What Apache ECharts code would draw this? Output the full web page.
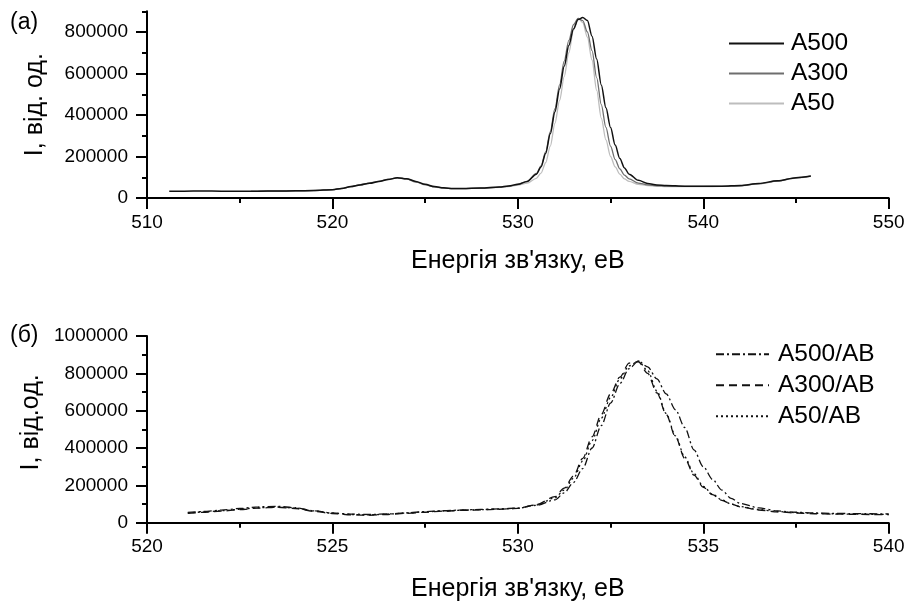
<!DOCTYPE html>
<html>
<head>
<meta charset="utf-8">
<script src="https://cdn.jsdelivr.net/npm/echarts@6/dist/echarts.min.js"></script>
<style>
  html, body { margin: 0; padding: 0; background: #fff; }
  #chart { width: 908px; height: 603px; }
</style>
</head>
<body>
<div id="chart"></div>
<script>
// O 1s spectra: panel (а) – anatase samples, panel (б) – the same samples after AB treatment
const energyTop = [511.2, 512, 513, 514, 515, 515.6, 516, 517, 518, 519,
  520, 520.5, 521, 521.5, 522, 522.5, 523, 523.5, 524, 524.5,
  525, 525.5, 526, 526.5, 527, 528, 529, 529.5, 530, 530.5,
  531, 531.25, 531.5, 531.75, 532, 532.25, 532.5, 532.75, 533, 533.25,
  533.5, 533.75, 534, 534.25, 534.5, 534.75, 535, 535.25, 535.5, 535.75,
  536, 536.5, 537, 537.5, 538, 539, 540, 541, 542, 543,
  544, 545, 545.8];

const a500 = [32000, 33000, 33500, 33000, 32000, 32500, 33000, 33500, 34500, 36500,
  40000, 46000, 55000, 63000, 71000, 79000, 89000, 98000, 93000, 80000,
  66000, 55000, 49000, 46000, 46000, 48000, 53000, 58000, 66000, 80000,
  115000, 150000, 215000, 310000, 415000, 525000, 635000, 735000, 815000, 860000,
  870000, 855000, 780000, 670000, 545000, 435000, 340000, 255000, 190000, 145000,
  115000, 85000, 70000, 63000, 60000, 57000, 57000, 57000, 60000, 70000,
  83000, 98000, 106000];

const a300 = [null, null, null, null, null, 32000, 32500, 33000, 34000, 36000,
  40000, 46000, 55000, 64000, 72000, 80000, 90000, 97000, 92000, 78000,
  64000, 54000, 48000, 45000, 45000, 47000, 52000, 57000, 65000, 80000,
  118000, 155000, 222000, 320000, 430000, 545000, 660000, 760000, 835000, 866000,
  855000, 800000, 710000, 580000, 450000, 340000, 250000, 185000, 140000, 110000,
  92000, 72000, 63000, 59000, 57000, 56000, 56000, 56000, 59000, 69000,
  82000, 97000, 105000];

const a50 = [null, null, null, null, null, 33000, 33000, 33500, 34500, 36500,
  40000, 45000, 54000, 63000, 71000, 80000, 90000, 97000, 91000, 77000,
  63000, 53000, 48000, 45000, 45000, 47000, 51000, 55000, 62000, 72000,
  95000, 120000, 170000, 250000, 360000, 470000, 585000, 700000, 810000, 866000,
  845000, 775000, 665000, 520000, 385000, 280000, 200000, 150000, 115000, 92000,
  80000, 66000, 60000, 57000, 55000, 55000, 55000, 56000, 59000, 68000,
  81000, 96000, 104000];

const energyBottom = [521.1, 521.5, 522, 522.5, 523, 523.5, 524, 524.5, 525, 525.5,
  526, 526.5, 527, 527.5, 528, 528.5, 529, 529.5, 530, 530.5,
  531, 531.25, 531.5, 531.75, 532, 532.25, 532.5, 532.75, 533, 533.25,
  533.5, 533.75, 534, 534.25, 534.5, 534.75, 535, 535.25, 535.5, 535.75,
  536, 536.5, 537, 537.5, 538, 538.5, 539, 539.5, 540];

const a500ab = [55000, 60000, 67000, 76000, 85000, 88000, 80000, 64000, 52000, 46000,
  44000, 47000, 53000, 59000, 64000, 68000, 71000, 74000, 78000, 93000,
  122000, 160000, 215000, 290000, 400000, 520000, 640000, 745000, 825000, 866000,
  835000, 770000, 690000, 605000, 510000, 390000, 300000, 232000, 175000, 130000,
  103000, 79000, 63000, 56000, 52000, 50000, 49000, 48000, 47000];

const a300ab = [50000, 55000, 62000, 70000, 78000, 83000, 76000, 61000, 49000, 42000,
  40000, 44000, 50000, 56000, 62000, 66000, 69000, 72000, 77000, 97000,
  140000, 185000, 250000, 345000, 460000, 580000, 690000, 780000, 855000, 862000,
  800000, 695000, 580000, 460000, 345000, 255000, 190000, 150000, 120000, 100000,
  85000, 68000, 58000, 52000, 48000, 46000, 45000, 44000, 43000];

const a50ab = [52000, 57000, 64000, 72000, 80000, 84000, 78000, 63000, 51000, 44000,
  42000, 46000, 52000, 58000, 63000, 67000, 70000, 73000, 77000, 95000,
  133000, 175000, 238000, 330000, 440000, 560000, 670000, 770000, 840000, 866000,
  815000, 705000, 585000, 465000, 352000, 262000, 195000, 153000, 122000, 100000,
  86000, 70000, 60000, 54000, 50000, 48000, 46000, 45000, 44000];

const ticksTopY = [0, 200000, 400000, 600000, 800000];
const seriesTop = ['A500', 'A300', 'A50'];
const seriesBottom = ['A500/AB', 'A300/AB', 'A50/AB'];
const xTitle = 'Енергія зв\'язку, еВ';

const FONT = "'Liberation Sans', Arial, sans-serif";

function pairs(xs, ys) {
  const out = [];
  for (let i = 0; i < xs.length; i++) {
    if (ys[i] !== null) out.push([xs[i], ys[i]]);
  }
  return out;
}

const plain = function (v) { return String(v); };
const axisLineStyle = { show: true, lineStyle: { color: '#000', width: 2 } };

function mainX(grid, min, max, step, gap) {
  return {
    type: 'value', gridIndex: grid, position: 'bottom', min: min, max: max, interval: step,
    axisLine: axisLineStyle,
    axisTick: { show: true, inside: false, length: 11, lineStyle: { color: '#000', width: 2 } },
    axisLabel: { color: '#000', fontSize: 19, fontFamily: FONT, margin: 15, formatter: plain },
    splitLine: { show: false },
    name: xTitle, nameLocation: 'middle', nameGap: gap, nameMoveOverlap: false,
    nameTextStyle: { color: '#000', fontSize: 25, fontFamily: FONT }
  };
}
function minorX(grid, min, max, step) {
  return {
    type: 'value', gridIndex: grid, position: 'bottom', min: min, max: max, interval: step,
    axisLine: { show: false, onZero: false },
    axisTick: { show: true, inside: false, length: 5, lineStyle: { color: '#000', width: 2 } },
    axisLabel: { show: false }, splitLine: { show: false }
  };
}
function mainY(grid, max, step, name, gap, custom, namePad) {
  const ax = {
    type: 'value', gridIndex: grid, position: 'left', min: 0, max: max, interval: step,
    axisLine: axisLineStyle,
    axisTick: { show: true, inside: false, length: 11, lineStyle: { color: '#000', width: 2 } },
    axisLabel: { color: '#000', fontSize: 19, fontFamily: FONT, margin: 19, formatter: plain },
    splitLine: { show: false },
    name: name, nameLocation: 'middle', nameGap: gap, nameMoveOverlap: false,
    nameTextStyle: { color: '#000', fontSize: 25, fontFamily: FONT, padding: namePad }
  };
  if (custom) {
    ax.axisTick.customValues = custom;
    ax.axisLabel.customValues = custom;
  }
  return ax;
}
function minorY(grid, max, step) {
  return {
    type: 'value', gridIndex: grid, position: 'left', min: 0, max: max, interval: step,
    axisLine: { show: false, onZero: false },
    axisTick: { show: true, inside: false, length: 5, lineStyle: { color: '#000', width: 2 } },
    axisLabel: { show: false }, splitLine: { show: false }
  };
}

function line(name, x, y, color, width, type, xi) {
  return {
    name: name, type: 'line', xAxisIndex: xi, yAxisIndex: xi,
    data: pairs(x, y), symbol: 'none', smooth: 0.3, smoothMonotone: 'x',
    lineStyle: { color: color, width: width, type: type },
    itemStyle: { color: color },
    emphasis: { disabled: true }, silent: true
  };
}

const legendText = { color: '#000', fontSize: 24.5, fontFamily: FONT, lineHeight: 24.5 };

const option = {
  animation: false,
  backgroundColor: '#fff',
  grid: [
    { left: 147, right: 19.3, top: 11.25, height: 186.75 },
    { left: 147, right: 19.3, top: 336, height: 186.7 }
  ],
  xAxis: [
    mainX(0, 510, 550, 10, 50.5),
    minorX(0, 510, 550, 5),
    mainX(1, 520, 540, 5, 54),
    minorX(1, 520, 540, 2.5)
  ],
  yAxis: [
    mainY(0, 900000, 200000, 'I, від. од.', 99, ticksTopY, [0, 0, 0, 0]),
    minorY(0, 900000, 100000),
    mainY(1, 1000000, 200000, 'I, від.од.', 103, null, [0, 0, 0, 14]),
    minorY(1, 1000000, 100000)
  ],
  legend: [
    {
      data: seriesTop, orient: 'vertical', left: 728, top: 31, padding: 0,
      itemWidth: 55, itemHeight: 14, itemGap: 5,
      selectedMode: false, itemStyle: { opacity: 0, borderWidth: 0 },
      textStyle: Object.assign({ padding: [0, 0, 0, 2] }, legendText)
    },
    {
      data: seriesBottom, orient: 'vertical', left: 715, top: 341.75, padding: 0,
      itemWidth: 53, itemHeight: 14, itemGap: 6,
      selectedMode: false, itemStyle: { opacity: 0, borderWidth: 0 },
      textStyle: Object.assign({ padding: [0, 0, 0, 4] }, legendText)
    }
  ],
  graphic: [
    { type: 'text', x: 10, y: 23, style: { text: '(а)', fontSize: 23, fontFamily: FONT, fill: '#000', verticalAlign: 'middle' } },
    { type: 'text', x: 10, y: 336, style: { text: '(б)', fontSize: 23, fontFamily: FONT, fill: '#000', verticalAlign: 'middle' } }
  ],
  series: [
    line('A50', energyTop, a50, '#bdbdbd', 1.3, 'solid', 0),
    line('A300', energyTop, a300, '#6e6e6e', 1.3, 'solid', 0),
    line('A500', energyTop, a500, '#111111', 1.5, 'solid', 0),
    line('A50/AB', energyBottom, a50ab, '#111111', 1.3, [2, 3], 2),
    line('A300/AB', energyBottom, a300ab, '#111111', 1.3, [8, 5], 2),
    line('A500/AB', energyBottom, a500ab, '#111111', 1.3, [8, 3, 2, 3], 2)
  ]
};

const chart = echarts.init(document.getElementById('chart'), null, { renderer: 'canvas' });
chart.setOption(option);
</script>
</body>
</html>
